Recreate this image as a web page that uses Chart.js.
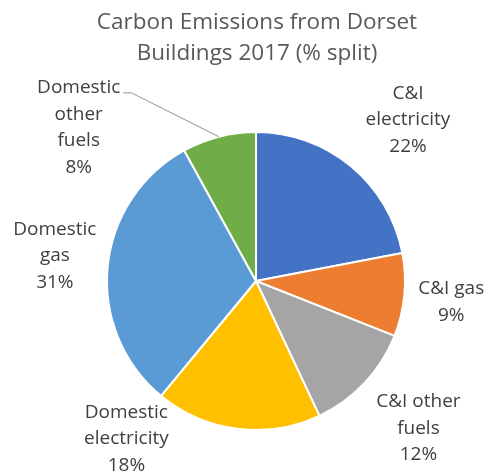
<!DOCTYPE html>
<html>
<head>
<meta charset="utf-8">
<script src="https://cdn.jsdelivr.net/npm/chart.js@4"></script>
<style>
  html, body { margin: 0; padding: 0; background: #fff; }
  #wrap { width: 488px; height: 475px; position: relative; }
</style>
</head>
<body>
<div id="wrap"><canvas id="pie"></canvas></div>
<script>
// chart data
const titleLines = ['Carbon Emissions from Dorset', 'Buildings 2017 (% split)'];
const categories = ['C&I electricity', 'C&I gas', 'C&I other fuels', 'Domestic electricity', 'Domestic gas', 'Domestic other fuels'];
const labelLines = [['C&I', 'electricity'], ['C&I gas'], ['C&I other', 'fuels'], ['Domestic', 'electricity'], ['Domestic', 'gas'], ['Domestic', 'other', 'fuels']];
const shares = [22, 9, 12, 18, 31, 8];
const sliceColours = ['#4472C4', '#ED7D31', '#A5A5A5', '#FFC000', '#5B9BD5', '#70AD47'];

// label anchors, relative to pie centre in units of radius (Excel best-fit look)
const labelPos = [[1.02, -1.08], [1.31, 0.14], [1.09, 0.99], [-0.87, 1.06], [-1.35, -0.17], [-1.19, -1.03]];
const leaderFor = 5; // only the small green slice gets a leader line

const labelPlugin = {
    id: 'pieLabels',
    afterDraw(chart) {
        const ctx = chart.ctx;
        const meta = chart.getDatasetMeta(0);
        const arc0 = meta.data[0];
        const cx = arc0.x, cy = arc0.y, r = arc0.outerRadius;

        ctx.save();
        ctx.textAlign = 'center';
        ctx.textBaseline = 'middle';

        // title
        ctx.fillStyle = '#595959';
        ctx.font = '22.5px "Open Sans"';
        titleLines.forEach((t, i) => ctx.fillText(t, 257, 23 + i * 31));

        // data labels
        ctx.fillStyle = '#404040';
        ctx.font = '19px "Open Sans"';
        const lh = 26.5;
        labelLines.forEach((lines, i) => {
            const all = lines.concat([shares[i] + '%']);
            const x = cx + labelPos[i][0] * r;
            const yMid = cy + labelPos[i][1] * r;
            const y0 = yMid - (all.length - 1) * lh / 2;
            all.forEach((t, j) => ctx.fillText(t, x, y0 + j * lh));

            if (i === leaderFor) {
                const arc = meta.data[i];
                const mid = (arc.startAngle + arc.endAngle) / 2;
                const ex = cx + Math.cos(mid) * r;
                const ey = cy + Math.sin(mid) * r;
                const w = ctx.measureText(lines[0]).width;
                const sx = x + w / 2 + 3;
                ctx.strokeStyle = '#A6A6A6';
                ctx.lineWidth = 1.2;
                ctx.beginPath();
                ctx.moveTo(sx, y0 + 5);
                ctx.lineTo(sx + 8, y0 + 5);
                ctx.lineTo(ex, ey);
                ctx.stroke();
            }
        });
        ctx.restore();
    }
};

new Chart(document.getElementById('pie'), {
    type: 'pie',
    data: {
        labels: categories,
        datasets: [{
            data: shares,
            backgroundColor: sliceColours,
            borderColor: '#ffffff',
            borderWidth: 2
        }]
    },
    options: {
        responsive: true,
        maintainAspectRatio: false,
        animation: false,
        layout: { padding: { top: 130, bottom: 43, left: 106, right: 82 } },
        plugins: {
            legend: { display: false },
            tooltip: { enabled: false },
            title: { display: false }
        }
    },
    plugins: [labelPlugin]
});
</script>
</body>
</html>
